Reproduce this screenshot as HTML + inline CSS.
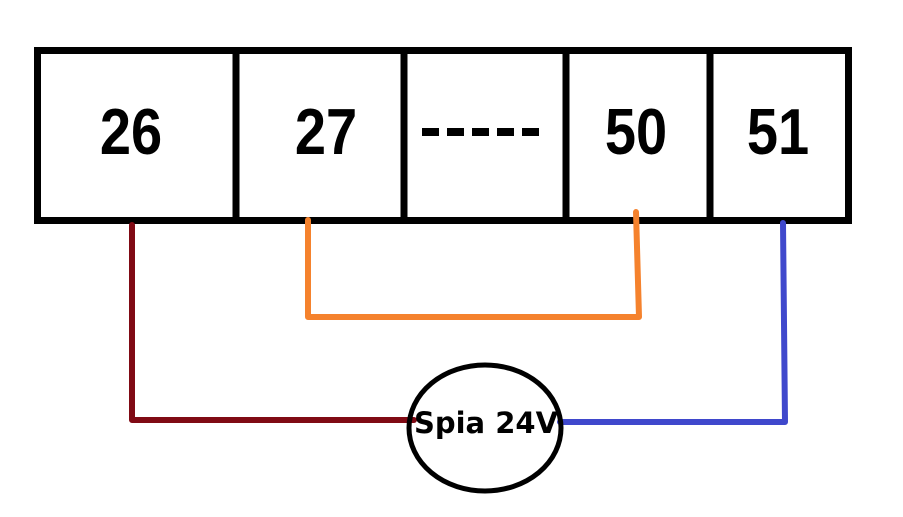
<!DOCTYPE html>
<html><head><meta charset="utf-8"><style>
html,body{margin:0;padding:0;background:#fff;width:903px;height:517px;overflow:hidden}
text{font-family:"Liberation Sans",sans-serif;font-weight:bold}
</style></head><body>
<svg width="903" height="517" viewBox="0 0 903 517" xmlns="http://www.w3.org/2000/svg">
<rect x="37.5" y="50.5" width="811" height="170" fill="#fff" stroke="#000" stroke-width="7"/>
<g stroke="#000" stroke-width="7">
<line x1="236" y1="50" x2="236" y2="221"/>
<line x1="404" y1="50" x2="404" y2="224"/>
<line x1="566" y1="50" x2="566" y2="221"/>
<line x1="710" y1="50" x2="710" y2="221"/>
</g>
<g font-size="56" text-anchor="middle" fill="#000" transform="translate(0,154) scale(1,1.16) translate(0,-154)">
<text x="131" y="154">26</text>
<text x="326" y="154">27</text>
<text x="636" y="154">50</text>
<text x="778" y="154">51</text>
</g>
<g fill="#000">
<rect x="422" y="128" width="17" height="8"/>
<rect x="447" y="128" width="17" height="8"/>
<rect x="472" y="128" width="17" height="8"/>
<rect x="497" y="128" width="17" height="8"/>
<rect x="522" y="128" width="17" height="8"/>
</g>
<g fill="none" stroke-width="6" stroke-linecap="round" stroke-linejoin="round">
<polyline points="132,225 132,420 414,420" stroke="#800a14"/>
<polyline points="308,220 308,317 639,317 636,212" stroke="#f5822d"/>
<polyline points="783,223 785,422 560,422" stroke="#3f48cc"/>
</g>
<ellipse cx="485" cy="428" rx="76" ry="63" fill="none" stroke="#000" stroke-width="5"/>
<text x="486" y="433" font-size="29" text-anchor="middle" fill="#000" style="font-family:'DejaVu Sans','Liberation Sans',sans-serif">Spia 24V</text>
</svg>
</body></html>
